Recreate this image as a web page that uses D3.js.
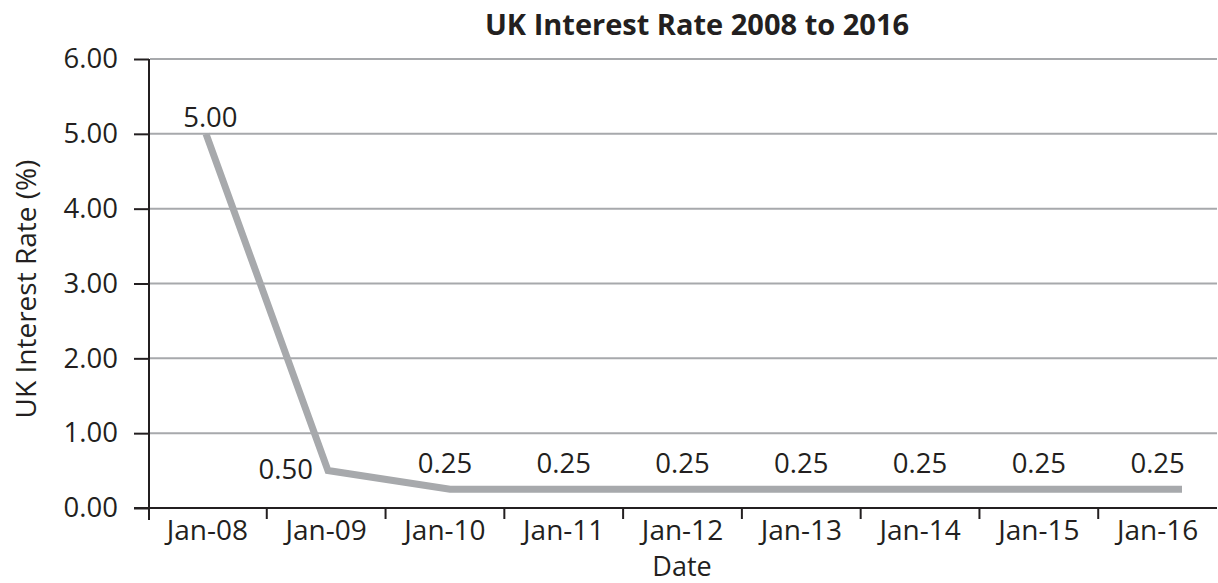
<!DOCTYPE html>
<html>
<head>
<meta charset="utf-8">
<script src="https://cdn.jsdelivr.net/npm/d3@7"></script>
<style>
  body { margin: 0; background: #fff; }
  svg { display: block; font-family: "Open Sans", sans-serif; }
</style>
</head>
<body>
<div id="chart"></div>
<script>
// data
var dates = ['Jan-08', 'Jan-09', 'Jan-10', 'Jan-11', 'Jan-12', 'Jan-13', 'Jan-14', 'Jan-15', 'Jan-16'];
var rates = [5.00, 0.50, 0.25, 0.25, 0.25, 0.25, 0.25, 0.25, 0.25];
var yTicks = [0, 1, 2, 3, 4, 5, 6];

var width = 1218, height = 583;
var ink = '#231f20', grey = '#a7a9ac';

var svg = d3.select('#chart').append('svg')
  .attr('width', width)
  .attr('height', height);

var x = d3.scaleBand().domain(dates).range([148, 1217]).padding(0);
// the line vertices sit on a slightly wider spacing than the category bands
var xLine = d3.scalePoint().domain(dates).range([206, 1182]);
var y = d3.scaleLinear().domain([0, 6]).range([508, 59]);

// gridlines
svg.append('g')
  .selectAll('line')
  .data(yTicks.filter(function(d) { return d > 0; }))
  .enter()
  .append('line')
  .attr('x1', 150)
  .attr('x2', 1217)
  .attr('y1', function(d) { return y(d); })
  .attr('y2', function(d) { return y(d); })
  .attr('stroke', grey)
  .attr('stroke-width', 2);

// y axis
var yAxis = d3.axisLeft(y)
  .tickValues(yTicks)
  .tickFormat(d3.format('.2f'))
  .tickSize(15)
  .tickPadding(16);

var gy = svg.append('g')
  .attr('transform', 'translate(149,0)')
  .call(yAxis);
gy.select('.domain').remove();
gy.append('line')
  .attr('x1', 0).attr('x2', 0)
  .attr('y1', y(6)).attr('y2', y(0) + 12)
  .attr('stroke', ink)
  .attr('stroke-width', 2);
gy.selectAll('.tick line').attr('stroke', ink).attr('stroke-width', 2);
gy.selectAll('.tick text')
  .attr('fill', ink)
  .attr('font-size', 27.5)
  .attr('font-family', '"Open Sans", sans-serif');

// x axis, ticks between categories
var gx = svg.append('g').attr('transform', 'translate(0,' + y(0) + ')');
gx.append('line')
  .attr('x1', 134).attr('x2', 1217)
  .attr('stroke', ink)
  .attr('stroke-width', 2);
gx.selectAll('.xtick')
  .data(dates.slice(1))
  .enter()
  .append('line')
  .attr('class', 'xtick')
  .attr('x1', function(d) { return x(d); })
  .attr('x2', function(d) { return x(d); })
  .attr('y1', 0)
  .attr('y2', 11)
  .attr('stroke', ink)
  .attr('stroke-width', 2);
gx.selectAll('.xlabel')
  .data(dates)
  .enter()
  .append('text')
  .attr('class', 'xlabel')
  .attr('x', function(d) { return x(d) + x.bandwidth() / 2; })
  .attr('y', 32)
  .attr('text-anchor', 'middle')
  .attr('font-size', 28)
  .attr('fill', ink)
  .text(function(d) { return d; });

// line
var line = d3.line()
  .x(function(d, i) { return xLine(dates[i]); })
  .y(function(d) { return y(d); });

svg.append('path')
  .datum(rates)
  .attr('fill', 'none')
  .attr('stroke', grey)
  .attr('stroke-width', 7)
  .attr('stroke-linejoin', 'miter')
  .attr('d', line);

// data labels
svg.append('g')
  .selectAll('text')
  .data(rates)
  .enter()
  .append('text')
  .attr('x', function(d, i) {
    if (i === 1) return xLine(dates[i]) - 15;
    return x(dates[i]) + x.bandwidth() / 2 + (i === 0 ? 3 : 0);
  })
  .attr('y', function(d, i) {
    if (i === 0) return y(d) - 7;
    if (i === 1) return y(d) + 8;
    return y(d) - 16;
  })
  .attr('text-anchor', function(d, i) { return i === 1 ? 'end' : 'middle'; })
  .attr('font-size', 27.5)
  .attr('fill', ink)
  .text(function(d) { return d3.format('.2f')(d); });

// titles
svg.append('text')
  .attr('x', 697)
  .attr('y', 35)
  .attr('text-anchor', 'middle')
  .attr('font-size', 29)
  .attr('font-weight', 'bold')
  .attr('fill', ink)
  .text('UK Interest Rate 2008 to 2016');

svg.append('text')
  .attr('transform', 'translate(36,289) rotate(-90)')
  .attr('text-anchor', 'middle')
  .attr('font-size', 28)
  .attr('fill', ink)
  .text('UK Interest Rate (%)');

svg.append('text')
  .attr('x', 682)
  .attr('y', 576)
  .attr('text-anchor', 'middle')
  .attr('font-size', 27)
  .attr('fill', ink)
  .text('Date');
</script>
</body>
</html>
